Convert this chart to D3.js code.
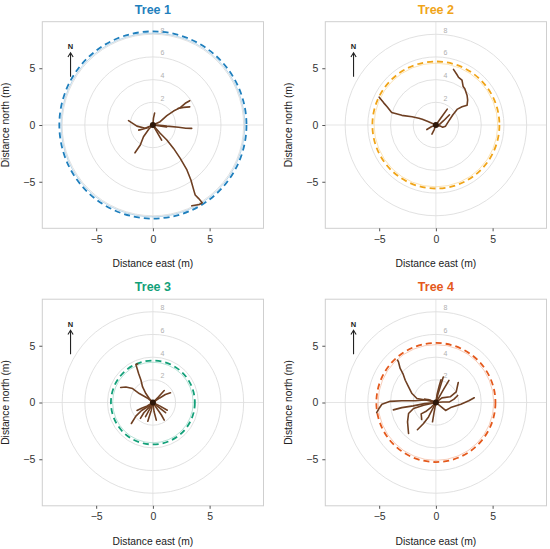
<!DOCTYPE html>
<html><head><meta charset="utf-8">
<script src="https://cdn.jsdelivr.net/npm/d3@7"></script>
<style>body{margin:0;background:#fff}svg{display:block;font-family:"Liberation Sans",Arial,sans-serif}</style>
</head><body><svg id="c" width="550" height="549"></svg>
<script>
const treeNames = ["Tree 1","Tree 2","Tree 3","Tree 4"];
const treeColors = ["#1f7fbd","#f0a418","#13a079","#e4591c"];
const extentRadius = [8.25, 5.6, 3.7, 5.25];
const gridRadii = [2,4,6,8];
const axisTicks = [-5,0,5];

const tree1Roots = [
  [[0,0],[0.64,0.29],[1.23,0.82],[1.82,1.23],[2.41,1.53],[2.85,1.91],[3.25,2.14]],
  [[2.2,1.45],[2.7,1.55],[3.25,1.6]],
  [[0,0],[0.6,-0.02],[1.23,-0.1],[2.26,-0.2],[2.9,-0.28],[3.42,-0.3]],
  [[0,0],[0.6,-0.08],[1.2,-0.18]],
  [[0,0],[0.05,0.6],[0.15,1.05]],
  [[0,0],[-0.68,-0.29],[-1.41,-0.1],[-2.15,0.38]],
  [[-0.4,-0.22],[-0.85,-0.35],[-1.25,-0.45]],
  [[0,0],[-0.35,-0.35],[-0.83,-1.03],[-1.11,-1.76],[-1.58,-2.45]],
  [[0,0],[0.35,-0.6],[0.77,-1.34]],
  [[0,0],[0.64,-0.73],[1.23,-1.32],[1.82,-2.06],[2.41,-2.94],[3.0,-3.96],[3.35,-4.85],[3.64,-5.87],[3.73,-6.17],[4.02,-6.46],[4.35,-6.85],[4.1,-7.0],[3.43,-7.12]]
];
const tree2Roots = [
  [[0,0],[-0.7,0.3],[-1.2,0.5],[-1.5,0.6],[-2.1,0.72],[-3.0,0.85],[-3.9,1.1],[-4.3,1.6],[-4.6,1.95],[-5.0,2.45]],
  [[0,0],[0.4,-0.1],[0.6,-0.2],[0.85,-0.1],[1.1,0.3],[1.5,0.9],[1.9,1.4],[2.3,1.6],[2.75,1.75],[2.8,2.2],[2.75,2.6],[2.55,3.2],[2.4,3.4],[2.3,3.95],[2.0,4.2],[1.85,4.45],[1.55,4.9]],
  [[0,0],[0.5,0.7],[1.0,1.4]],
  [[0.2,-0.05],[0.7,0.4],[1.2,0.9]],
  [[0,0],[-0.4,-0.15],[-0.8,-0.4]],
  [[0,0],[-0.15,-0.4],[-0.35,-0.8]]
];
const tree3Roots = [
  [[0,0],[-0.32,0.35],[-0.62,0.79],[-0.91,1.37],[-1.05,1.96],[-1.26,2.55],[-1.44,3.14],[-1.5,3.35],[-1.35,3.4]],
  [[0,0],[-0.5,0.4],[-1.2,0.79],[-1.79,1.23],[-2.38,1.37],[-2.84,1.32]],
  [[0,0],[0.5,0.5],[1.0,1.05]],
  [[0,0],[0.6,0.4],[1.1,0.7],[1.55,0.85]],
  [[0,0],[0.6,-0.3],[1.27,-0.68]],
  [[0,0],[0.5,-0.4],[1.12,-0.9]],
  [[0,0],[0.4,-0.6],[0.75,-1.1],[1.0,-1.55]],
  [[0,0],[0.1,-0.8],[0.3,-1.55]],
  [[0,0],[-0.5,-0.4],[-1.0,-0.7],[-1.5,-1.2],[-1.9,-1.85]],
  [[0,0],[-0.4,-0.5],[-0.8,-0.9],[-1.1,-1.4]],
  [[0,0],[-0.3,-0.6],[-0.65,-1.25]],
  [[0,0],[-0.15,-0.7],[-0.45,-1.65]],
  [[0,0],[-0.5,-0.3],[-1.0,-0.5],[-1.4,-0.7]]
];
const tree4Roots = [
  [[0,0],[-0.79,0.2],[-1.67,0.35],[-2.11,0.79],[-2.41,1.37],[-2.7,1.96],[-2.91,2.55],[-3.15,3.0],[-3.3,3.58],[-3.38,3.73]],
  [[0,0],[-0.65,0.25],[-1.82,0.15],[-3.0,0.15],[-4.03,0.1],[-4.76,-0.15],[-5.0,-0.5],[-5.22,-0.9]],
  [[0,0],[-1.0,-0.1],[-2.0,-0.3],[-3.0,-0.45],[-3.75,-0.65]],
  [[0,0],[-1.09,-0.24],[-1.97,-0.53],[-2.41,-0.97],[-2.5,-1.71],[-2.41,-2.73]],
  [[0,0],[-0.35,-0.68],[-0.65,-1.27],[-1.09,-1.85],[-1.63,-2.4]],
  [[0,0],[-0.4,-0.4],[-0.9,-0.8],[-1.3,-1.0],[-1.25,-1.5]],
  [[0,0],[-0.15,-0.8],[-0.3,-1.7]],
  [[0,0],[0.2,0.8],[0.45,1.6],[0.65,2.25]],
  [[0,0],[0.1,0.7],[0.3,1.5],[0.45,2.0]],
  [[0,0],[0.3,0.5],[0.7,1.2],[1.15,1.95]],
  [[0,0],[0.53,0.41],[1.26,0.5],[1.79,0.94],[1.97,1.76]],
  [[0,0],[0.6,0.05],[1.2,0.05],[1.6,0.3],[1.92,0.62]],
  [[0,0],[0.5,-0.4],[0.85,-0.7],[1.3,-0.45],[2.2,-0.15],[2.9,0.15],[3.38,0.42]],
  [[0,0],[-0.5,0.2],[-1.0,0.3]]
];
const allRoots = [tree1Roots, tree2Roots, tree3Roots, tree4Roots];

const svg = d3.select("#c");
const W = 221.2, H = 206.6;
const origins = [[42.3,21.7],[325.3,21.7],[42.3,299.2],[325.3,299.2]];

treeNames.forEach((name, i) => {
  const [L, T] = origins[i];
  const x = d3.scaleLinear().domain([-9.75, 9.75]).range([L, L + W]);
  const y = d3.scaleLinear().domain([-9.1, 9.1]).range([T + H, T]);
  const k = x(1) - x(0);
  const g = svg.append("g");
  const clipId = "clip" + i;
  g.append("clipPath").attr("id", clipId).append("rect").attr("x", L).attr("y", T).attr("width", W).attr("height", H);
  const inner = g.append("g").attr("clip-path", `url(#${clipId})`);

  // cross lines
  inner.append("line").attr("x1", L).attr("x2", L + W).attr("y1", y(0)).attr("y2", y(0)).attr("stroke", "#e2e2e2").attr("stroke-width", 0.9);
  inner.append("line").attr("x1", x(0)).attr("x2", x(0)).attr("y1", T).attr("y2", T + H).attr("stroke", "#e2e2e2").attr("stroke-width", 0.9);
  // grid circles
  inner.selectAll(".gc").data(gridRadii).join("circle")
    .attr("cx", x(0)).attr("cy", y(0)).attr("r", d => d * k)
    .attr("fill", "none").attr("stroke", "#dedede").attr("stroke-width", 0.9);
  inner.selectAll(".gl").data(gridRadii).join("text")
    .attr("x", x(0.85)).attr("y", d => y(d + 0.35)).attr("dy", "0.35em")
    .attr("text-anchor", "middle").attr("font-size", 7).attr("fill", "#b0b0b0").text(d => d);

  // companion light circle & dashed extent circle
  inner.append("circle").attr("cx", x(0)).attr("cy", y(0)).attr("r", (extentRadius[i] - 0.15) * k)
    .attr("fill", "none").attr("stroke", treeColors[i]).attr("stroke-opacity", 0.3).attr("stroke-width", 1);
  inner.append("circle").attr("cx", x(0)).attr("cy", y(0)).attr("r", extentRadius[i] * k)
    .attr("fill", "none").attr("stroke", treeColors[i]).attr("stroke-width", 1.8).attr("stroke-dasharray", "6,4");

  // roots
  const line = d3.line().x(d => x(d[0])).y(d => y(d[1]));
  inner.selectAll(".root").data(allRoots[i]).join("path")
    .attr("d", line).attr("fill", "none").attr("stroke", "#6e3f22").attr("stroke-width", 1.6)
    .attr("stroke-linejoin", "round").attr("stroke-linecap", "round");
  inner.append("circle").attr("cx", x(0)).attr("cy", y(0)).attr("r", 3).attr("fill", "#2e1709");

  // north arrow
  inner.append("line").attr("x1", x(-7.26)).attr("x2", x(-7.26)).attr("y1", y(4.26)).attr("y2", y(6.3))
    .attr("stroke", "#222").attr("stroke-width", 1.1);
  inner.append("path").attr("d", `M${x(-7.26)-2.6},${y(6.3)+3.5} L${x(-7.26)},${y(6.37)} L${x(-7.26)+2.6},${y(6.3)+3.5}`)
    .attr("fill", "none").attr("stroke", "#222").attr("stroke-width", 1.1);
  inner.append("text").attr("x", x(-7.26)).attr("y", y(6.9)).attr("dy", "0.35em").attr("text-anchor", "middle")
    .attr("font-size", 7.5).attr("font-weight", "bold").attr("fill", "#222").text("N");

  // box
  g.append("rect").attr("x", L).attr("y", T).attr("width", W).attr("height", H)
    .attr("fill", "none").attr("stroke", "#cfcfcf").attr("stroke-width", 1);

  // axes
  const xa = g.append("g").attr("transform", `translate(0,${T + H})`)
    .call(d3.axisBottom(x).tickValues(axisTicks).tickSize(3).tickPadding(4).tickFormat(d => d < 0 ? "\u2212" + Math.abs(d) : d));
  const ya = g.append("g").attr("transform", `translate(${L},0)`)
    .call(d3.axisLeft(y).tickValues(axisTicks).tickSize(3).tickPadding(4).tickFormat(d => d < 0 ? "\u2212" + Math.abs(d) : d));
  [xa, ya].forEach(a => {
    a.select(".domain").remove();
    a.selectAll(".tick line").attr("stroke", "#555");
    a.selectAll(".tick text").attr("font-size", 10.5).attr("fill", "#333").attr("font-family", "Liberation Sans, Arial, sans-serif");
  });

  g.append("text").attr("x", L + W / 2).attr("y", T + H + 39).attr("text-anchor", "middle")
    .attr("font-size", 10.3).attr("fill", "#222").text("Distance east (m)");
  g.append("text").attr("transform", `translate(${L - 33},${T + H / 2}) rotate(-90)`).attr("text-anchor", "middle")
    .attr("font-size", 10.3).attr("fill", "#222").text("Distance north (m)");
  g.append("text").attr("x", L + W / 2).attr("y", T - 8).attr("text-anchor", "middle")
    .attr("font-size", 12.5).attr("font-weight", "bold").attr("fill", treeColors[i]).text(name);
});
</script></body></html>
